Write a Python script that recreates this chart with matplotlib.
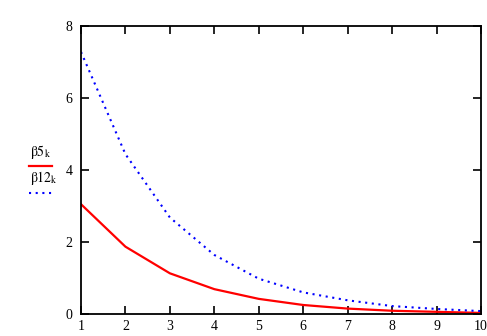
import matplotlib
matplotlib.use("Agg")
import matplotlib.pyplot as plt

k = [1, 2, 3, 4, 5, 6, 7, 8, 9, 10]
beta5 = [3.05, 1.87, 1.13, 0.69, 0.42, 0.25, 0.15, 0.09, 0.06, 0.03]
beta12 = [7.28, 4.44, 2.68, 1.64, 0.98, 0.60, 0.38, 0.22, 0.14, 0.08]

plt.rcParams['font.family'] = ['Liberation Serif', 'DejaVu Serif']
plt.rcParams['mathtext.fontset'] = 'stix'

fig = plt.figure(figsize=(4.87, 3.36), dpi=100)
ax = fig.add_axes([0.1663, 0.0655, 0.8214, 0.8571])

ax.plot(k, beta5, color='#ff0000', lw=1.6)
ax.plot(k, beta12, color='#0000ff', lw=1.5, linestyle=(0, (1, 2.2)),
        dash_capstyle='butt')

ax.set_xlim(1, 10)
ax.set_ylim(0, 8)
ax.set_xticks(k)
ax.set_yticks([0, 2, 4, 6, 8])
ax.tick_params(direction='in', length=6, width=1.2, labelsize=10,
               top=True, right=True)
ax.tick_params(axis='x', pad=4)
ax.tick_params(axis='y', pad=6)
for s in ax.spines.values():
    s.set_linewidth(1.3)

# legend drawn by hand at left, like the original
fig.text(0.062, 0.535, r'$\mathrm{\beta 5}_{\mathrm{k}}$', fontsize=10)
fig.text(0.062, 0.458, r'$\mathrm{\beta 12}_{\mathrm{k}}$', fontsize=10)
fig.add_artist(plt.Line2D([0.060, 0.107], [0.506, 0.506], color='#ff0000', lw=1.6))
fig.add_artist(plt.Line2D([0.060, 0.107], [0.426, 0.426], color='#0000ff', lw=1.5,
                          linestyle=(0, (1, 2.2)), dash_capstyle='butt'))

fig.savefig('out.png', dpi=100)
